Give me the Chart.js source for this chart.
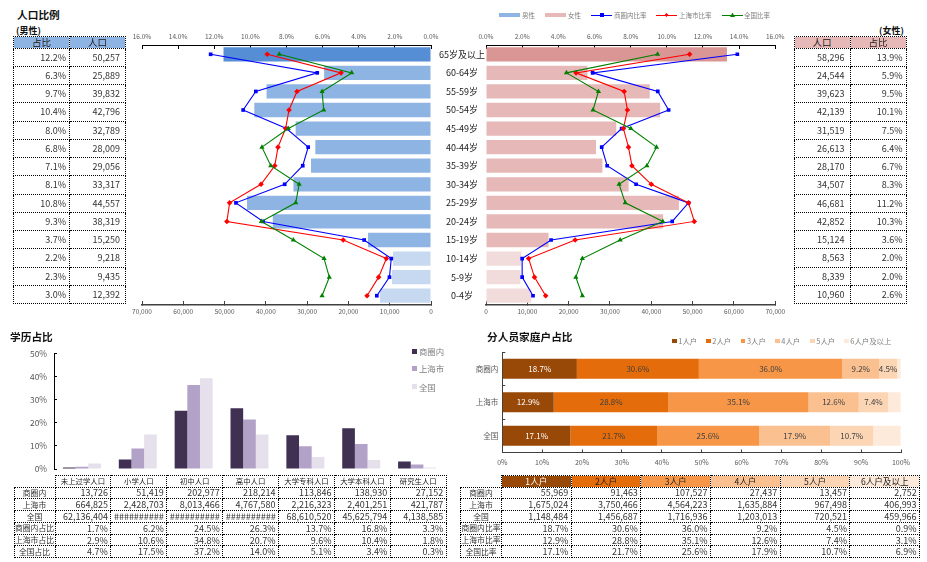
<!DOCTYPE html>
<html>
<head>
<meta charset="utf-8">
<title>人口比例</title>
<script src="https://cdn.jsdelivr.net/npm/chart.js"></script>
<style>
  html, body { margin: 0; padding: 0; background: #fff; }
  body { width: 927px; height: 562px; position: relative; overflow: hidden; font-family: "Noto Sans CJK SC", "Noto Sans", sans-serif; color: #222; }
  canvas { position: absolute; }
  .txt { position: absolute; white-space: nowrap; line-height: 1; }
  .title { font-size: 10.7px; font-weight: 700; color: #111; }
  .sub { font-size: 9px; font-weight: 700; color: #111; }
  .leg { font-size: 6.5px; color: #7f7f7f; }
  .box { position: absolute; }
  table { position: absolute; border-collapse: collapse; table-layout: fixed; }
  td { border: 1px dotted #000; padding: 0 2.5px; text-align: right; font-size: 9px; line-height: 1; overflow: hidden; white-space: nowrap; color: #333; box-sizing: border-box; }
  td.head { text-align: center; font-size: 9.5px; padding: 0; color: #222; }
  td.small { font-size: 7.4px; }
  td.mid { font-size: 8.6px; }
  td.blank { border-top: none; border-left: none; }
  td.name { text-align: center; font-size: 7.8px; padding: 0; }
</style>
</head>
<body>
<canvas id="pyramidLeft"></canvas>
<canvas id="pyramidRight"></canvas>
<canvas id="eduChart"></canvas>
<canvas id="familyChart"></canvas>
<script>
// 人口比例
const ageGroups = ["65岁及以上","60-64岁","55-59岁","50-54岁","45-49岁","40-44岁","35-39岁","30-34岁","25-29岁","20-24岁","15-19岁","10-14岁","5-9岁","0-4岁"];
const malePop = [50257,25889,39832,42796,32789,28009,29056,33317,44557,38319,15250,9218,9435,12392];
const malePct = [12.2,6.3,9.7,10.4,8.0,6.8,7.1,8.1,10.8,9.3,3.7,2.2,2.3,3.0];
const maleShanghai = [9.07,4.98,7.42,7.86,8.05,8.47,8.65,9.41,11.15,11.3,4.86,2.47,2.9,3.54];
const maleNational = [8.4,4.39,6.03,5.94,7.9,9.36,8.87,7.3,7.49,9.39,7.62,5.92,5.63,6.03];
const femalePop = [58296,24544,39623,42139,31519,26613,28170,34507,46681,42852,15124,8563,8339,10960];
const femalePct = [13.9,5.9,9.5,10.1,7.5,6.4,6.7,8.3,11.2,10.3,3.6,2.0,2.0,2.6];
const femaleShanghai = [11.26,4.98,7.64,7.82,7.6,7.88,8.07,9.14,11.2,11.52,4.93,2.36,2.68,3.3];
const femaleNational = [9.49,4.45,6.22,5.92,8.01,9.43,8.9,7.36,7.7,9.78,7.42,5.33,4.97,5.33];

// 学历占比
const eduNames = ["未上过学人口","小学人口","初中人口","高中人口","大学专科人口","大学本科人口","研究生人口"];
const eduAreas = ["商圈内","上海市","全国"];
const eduInner = [0.7,4.1,25.3,26.3,14.6,17.7,3.3];
const eduCity = [1.0,8.9,36.4,21.5,9.9,10.8,1.9];
const eduNation = [2.4,15.0,39.3,15.0,5.2,3.9,0.6];
const eduTableRows = [
  ["商圈内",13726,51419,202977,218214,113846,138930,27152],
  ["上海市",664825,2428703,8013466,4767580,2216323,2401251,421787],
  ["全国",62136404,"##########","##########","##########",68610520,45625794,4138585],
  ["商圈内占比","1.7%","6.2%","24.5%","26.3%","13.7%","16.8%","3.3%"],
  ["上海市占比","2.9%","10.6%","34.8%","20.7%","9.6%","10.4%","1.8%"],
  ["全国占比","4.7%","17.5%","37.2%","14.0%","5.1%","3.4%","0.3%"],
];

// 分人员家庭户占比
const familySizes = ["1人户","2人户","3人户","4人户","5人户","6人户及以上"];
const familyAreas = ["商圈内","上海市","全国"];
const familyInner = [18.7,30.6,36.0,9.2,4.5,0.9];
const familyCity = [12.9,28.8,35.1,12.6,7.4,3.1];
const familyNation = [17.1,21.7,25.6,17.9,10.7,6.9];
const familyTableRows = [
  ["商圈内",55969,91463,107527,27437,13457,2752],
  ["上海市",1675024,3750466,4564223,1635884,967498,406993],
  ["全国",1148484,1456687,1716936,1203013,720521,459966],
];
const familyColors = ["#984807","#E46C0A","#F79646","#FAC090","#FCD5B5","#FDEADA"];

Chart.defaults.animation = false;
Chart.defaults.responsive = false;
Chart.defaults.devicePixelRatio = 1;
Chart.defaults.font.family = '"Noto Sans CJK SC", "Noto Sans", sans-serif';
Chart.defaults.color = "#595959";

function place(id, left, top, width, height) {
  const c = document.getElementById(id);
  c.width = width;
  c.height = height;
  c.style.left = left + "px";
  c.style.top = top + "px";
  c.style.width = width + "px";
  c.style.height = height + "px";
  return c;
}

function addText(text, x, y, cls) {
  const el = document.createElement("div");
  el.className = "txt " + cls;
  el.textContent = text;
  el.style.left = x + "px";
  el.style.top = y + "px";
  document.body.appendChild(el);
  return el;
}

function addBox(x, y, w, h, color, clip) {
  const el = document.createElement("div");
  el.className = "box";
  el.style.cssText = `left:${x}px;top:${y}px;width:${w}px;height:${h}px;background:${color};` + (clip ? `clip-path:${clip};` : "");
  document.body.appendChild(el);
}

function fmt(v) {
  return typeof v === "number" ? v.toLocaleString("en-US") : v;
}

function addTable(left, top, widths, heights, rows) {
  const t = document.createElement("table");
  t.style.left = left + "px";
  t.style.top = top + "px";
  t.style.width = widths.reduce((a, b) => a + b, 0) + "px";
  const cols = widths.map((w) => `<col style="width:${w}px">`).join("");
  const body = rows.map((row, r) =>
    `<tr style="height:${heights[r]}px">` + row.map((cell) => {
      const style = cell.bg ? `background:${cell.bg};color:${cell.fg || "#222"};` : "";
      const pad = cell.pad ? `padding-right:${cell.pad}px;` : "";
      return `<td class="${cell.cls || ""}" style="${style}${pad}">${fmt(cell.v)}</td>`;
    }).join("") + "</tr>"
  ).join("");
  t.innerHTML = `<colgroup>${cols}</colgroup><tbody>${body}</tbody>`;
  document.body.appendChild(t);
}

// inward tick marks: negative tick length, padding makes up for it
function axisGrid(color) {
  return { display: true, drawOnChartArea: false, drawTicks: true, tickLength: -4, color: color };
}

function fixHeight(h) {
  return (scale) => { scale.height = h; };
}
function fixWidth(w) {
  return (scale) => { scale.width = w; };
}

function pyramidOptions(reverse, padding, showLabels) {
  return {
    indexAxis: "y",
    layout: { padding: padding },
    plugins: { legend: { display: false }, tooltip: { enabled: false } },
    scales: {
      y: {
        type: "category",
        position: "right",
        display: showLabels,
        afterFit: showLabels ? fixWidth(55) : undefined,
        grid: { display: false },
        border: { display: false },
        ticks: { color: "#222", font: { size: 9 }, crossAlign: "center", padding: 0, autoSkip: false },
      },
      x: {
        position: "bottom",
        reverse: reverse,
        min: 0,
        max: 70000,
        afterFit: fixHeight(17),
        grid: axisGrid("#404040"),
        border: { color: "#404040", width: 1.5 },
        ticks: { stepSize: 10000, font: { size: 6.5 }, padding: 7, maxRotation: 0, autoSkip: false,
          callback: (v) => v.toLocaleString("en-US") },
      },
      x2: {
        position: "top",
        reverse: reverse,
        min: 0,
        max: 16,
        afterFit: fixHeight(17),
        grid: axisGrid("#000"),
        border: { color: "#000", width: 1 },
        ticks: { stepSize: 2, font: { size: 6.5 }, padding: 9, maxRotation: 0, autoSkip: false,
          callback: (v) => v.toFixed(1) + "%" },
      },
    },
  };
}

function ratioLine(label, data, color, style, radius, order) {
  return {
    type: "line",
    label: label,
    data: data,
    xAxisID: "x2",
    yAxisID: "y",
    borderColor: color,
    backgroundColor: color,
    borderWidth: 1.1,
    tension: 0,
    pointStyle: style,
    pointRadius: radius,
    pointBorderWidth: 0,
    order: order,
  };
}

function pyramidData(label, pop, pct, shanghai, national, barColors) {
  return {
    labels: ageGroups,
    datasets: [
      { type: "bar", label: label, data: pop, xAxisID: "x", yAxisID: "y",
        backgroundColor: barColors, barPercentage: 0.77, categoryPercentage: 1, order: 4 },
      ratioLine("商圈内比率", pct, "#0000FF", "rect", 2.6, 3),
      ratioLine("上海市比率", shanghai, "#FF0000", "rectRot", 2.8, 2),
      ratioLine("全国比率", national, "#008000", "triangle", 3, 1),
    ],
  };
}

new Chart(place("pyramidLeft", 116, 28, 370, 294), {
  data: pyramidData("男性", malePop, malePct, maleShanghai, maleNational,
    ageGroups.map((_, i) => i === 0 ? "#558ED5" : i >= 11 ? "#C6D9F1" : "#8EB4E3")),
  options: pyramidOptions(true, { left: 26 }, true),
});

new Chart(place("pyramidRight", 460, 28, 340, 294), {
  data: pyramidData("女性", femalePop, femalePct, femaleShanghai, femaleNational,
    ageGroups.map((_, i) => i === 0 ? "#D99694" : i >= 11 ? "#F2DCDB" : "#E6B9B8")),
  options: pyramidOptions(false, { left: 26, right: 24.7 }, false),
});

new Chart(place("eduChart", 10, 330, 435, 160), {
  type: "bar",
  data: {
    labels: eduNames,
    datasets: [
      { label: eduAreas[0], data: eduInner, backgroundColor: "#403152" },
      { label: eduAreas[1], data: eduCity, backgroundColor: "#B3A2C7" },
      { label: eduAreas[2], data: eduNation, backgroundColor: "#E6E0EC" },
    ],
  },
  options: {
    layout: { padding: { top: 23.7, bottom: 21 } },
    datasets: { bar: { barPercentage: 1, categoryPercentage: 0.68 } },
    plugins: { legend: { display: false }, tooltip: { enabled: false } },
    scales: {
      x: { display: false },
      y: {
        min: 0,
        max: 50,
        afterFit: fixWidth(44),
        grid: { ...axisGrid("#000"), tickLength: -3 },
        border: { color: "#000", width: 1 },
        ticks: { stepSize: 10, font: { size: 8.4 }, padding: 10, callback: (v) => v + "%" },
      },
    },
  },
});

// percentage text in the middle of each stacked segment
const segmentLabels = {
  id: "segmentLabels",
  afterDatasetsDraw(chart) {
    const ctx = chart.ctx;
    ctx.save();
    ctx.font = '8px "Noto Sans CJK SC", sans-serif';
    ctx.textAlign = "center";
    ctx.textBaseline = "middle";
    chart.data.datasets.forEach((ds, d) => {
      if (d === familySizes.length - 1) return;
      ctx.fillStyle = d === 0 ? "#fff" : "#404040";
      chart.getDatasetMeta(d).data.forEach((bar, i) => {
        const p = bar.getCenterPoint();
        ctx.fillText(ds.data[i].toFixed(1) + "%", p.x, p.y);
      });
    });
    ctx.restore();
  },
};

new Chart(place("familyChart", 470, 330, 457, 142), {
  type: "bar",
  plugins: [segmentLabels],
  data: {
    labels: familyAreas,
    datasets: familySizes.map((name, i) => ({
      label: name,
      data: [familyInner[i], familyCity[i], familyNation[i]],
      backgroundColor: familyColors[i],
    })),
  },
  options: {
    indexAxis: "y",
    layout: { padding: { top: 22, right: 26 } },
    datasets: { bar: { barPercentage: 0.6, categoryPercentage: 1 } },
    plugins: { legend: { display: false }, tooltip: { enabled: false } },
    scales: {
      x: {
        stacked: true,
        min: 0,
        max: 100,
        afterFit: fixHeight(19.5),
        grid: { ...axisGrid("#404040"), tickLength: -3 },
        border: { color: "#404040", width: 1 },
        ticks: { stepSize: 10, font: { size: 7 }, padding: 9, maxRotation: 0, autoSkip: false, callback: (v) => v + "%" },
      },
      y: {
        stacked: true,
        afterFit: fixWidth(32.3),
        grid: { ...axisGrid("#404040"), tickLength: -3 },
        border: { color: "#404040", width: 1 },
        ticks: { font: { size: 7.5 }, padding: 7 },
      },
    },
  },
});

// titles
addText("人口比例", 17, 9.5, "title");
addText("(男性)", 16, 25.5, "sub");
addText("(女性)", 879, 25.5, "sub");
addText("学历占比", 10, 332, "title");
addText("分人员家庭户占比", 487, 332, "title");

// top legend
addBox(499, 13, 21, 4, "#8EB4E3");
addText("男性", 522, 11.7, "leg");
addBox(545, 13, 21, 4, "#E6B9B8");
addText("女性", 568, 11.7, "leg");
addBox(591, 14.5, 21, 1, "#0000FF");
addBox(599.5, 13, 4, 4, "#0000FF");
addText("商圈内比率", 614, 11.7, "leg");
addBox(656, 14.5, 21, 1, "#FF0000");
addBox(664.5, 13, 4, 4, "#FF0000", "polygon(50% 0,100% 50%,50% 100%,0 50%)");
addText("上海市比率", 679, 11.7, "leg");
addBox(722, 14.5, 21, 1, "#008000");
addBox(730, 12.5, 5, 4.5, "#008000", "polygon(50% 0,100% 100%,0 100%)");
addText("全国比率", 744, 11.7, "leg");

// education legend
[["#403152", 351], ["#B3A2C7", 368.3], ["#E6E0EC", 386.7]].forEach(([color, y], i) => {
  addBox(412, y - 2.5, 5, 5, color);
  addText(eduAreas[i], 419, y - 4.2, "leg").style.fontSize = "8.4px";
});

// household legend
[672, 706, 740.7, 775, 810, 844].forEach((x, i) => {
  addBox(x, 338.5, 4.5, 4.5, familyColors[i]);
  addText(familySizes[i], x + 6.3, 337, "leg").style.fontSize = "7.4px";
});

// population tables
const popHeights = [11.5].concat(ageGroups.map(() => 18.25));
addTable(13, 36, [56, 56], popHeights,
  [[{ v: "占比", cls: "head", bg: "#8EB4E3" }, { v: "人口", cls: "head", bg: "#8EB4E3" }]].concat(
    malePct.map((p, i) => [{ v: p.toFixed(1) + "%", pad: 3 }, { v: malePop[i], pad: 5 }])
  ));
addTable(793.5, 36, [56, 56], popHeights,
  [[{ v: "人口", cls: "head", bg: "#E6B9B8" }, { v: "占比", cls: "head", bg: "#E6B9B8" }]].concat(
    femalePct.map((p, i) => [{ v: femalePop[i], pad: 5 }, { v: p.toFixed(1) + "%", pad: 3 }])
  ));

// education table
const lowHeights = [12, 11.8, 11.8, 11.8, 11.8, 11.8, 11.8];
addTable(13.5, 474.5, [41, 55.9, 55.9, 55.9, 55.9, 55.9, 55.9, 55.9], lowHeights,
  [[{ v: "", cls: "head blank" }].concat(eduNames.map((n) => ({ v: n, cls: "head small" })))].concat(
    eduTableRows.map((row) => row.map((v, i) => i === 0 ? { v: v, cls: "name" } : { v: v }))
  ));

// household table
const familyPctRows = [["商圈内比率", familyInner], ["上海市比率", familyCity], ["全国比率", familyNation]];
addTable(460, 474.5, [41, 69.7, 69.7, 69.7, 69.7, 69.7, 69.7], lowHeights,
  [[{ v: "", cls: "head blank" }].concat(familySizes.map((n, i) => ({ v: n, cls: "head mid", bg: familyColors[i], fg: i === 0 ? "#fff" : "#222" })))].concat(
    familyTableRows.map((row) => row.map((v, i) => i === 0 ? { v: v, cls: "name" } : { v: v })),
    familyPctRows.map(([name, vals]) => [{ v: name, cls: "name" }].concat(vals.map((p) => ({ v: p.toFixed(1) + "%" }))))
  ));
</script>
</body>
</html>
